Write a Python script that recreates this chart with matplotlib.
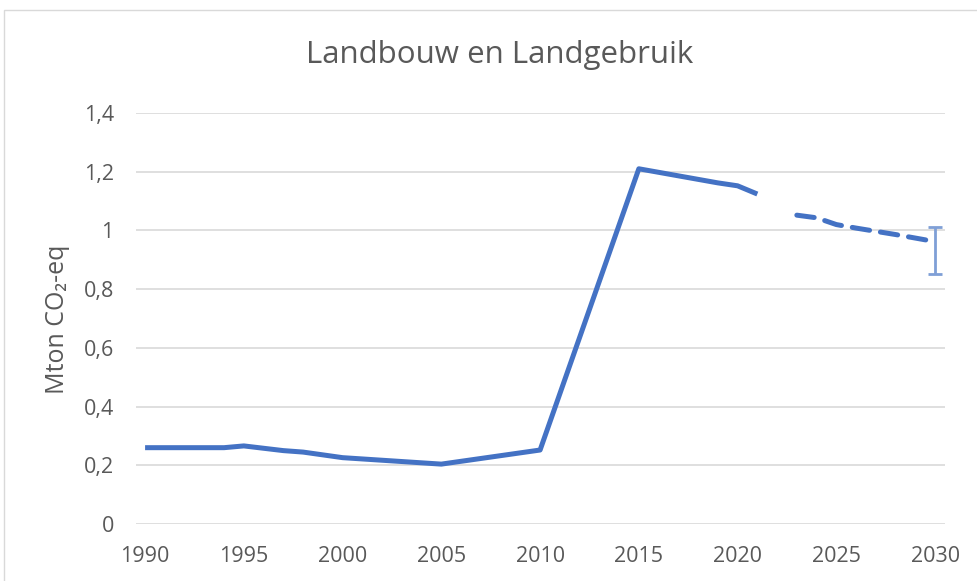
import matplotlib.pyplot as plt
from matplotlib.patches import Rectangle

# Historische reeks
years_hist = [1990, 1994, 1995, 1997, 1998, 2000, 2005, 2010, 2015, 2019, 2020, 2021]
values_hist = [0.26, 0.26, 0.266, 0.25, 0.245, 0.226, 0.204, 0.252, 1.21, 1.162, 1.152, 1.124]

# Projectie
years_proj = [2023, 2024, 2025, 2026, 2027, 2028, 2029, 2030]
values_proj = [1.052, 1.043, 1.02, 1.008, 0.997, 0.986, 0.974, 0.962]

# Bandbreedte 2030
err_year = 2030
err_low = 0.851
err_high = 1.01

blue = '#4472C4'
grey_txt = '#595959'
plt.rcParams['font.family'] = ['Open Sans', 'DejaVu Sans']

fig = plt.figure(figsize=(9.77, 5.81), dpi=100)
fig.patches.append(Rectangle((4 / 977, -0.1), 1.2, (581 - 10) / 581 + 0.1,
                             transform=fig.transFigure, fill=False,
                             edgecolor='#d9d9d9', linewidth=1))
ax = fig.add_axes([0.1392, 0.0981, 0.828, 0.7074])

ax.plot(years_hist, values_hist, color=blue, linewidth=3.6,
        solid_joinstyle='round', solid_capstyle='butt')
ax.plot(years_proj, values_proj, color=blue, linewidth=3.6,
        linestyle=(0, (3.5, 2.2)), dash_capstyle='round')
ax.errorbar([err_year], [values_proj[-1]],
            yerr=[[values_proj[-1] - err_low], [err_high - values_proj[-1]]],
            fmt='none', ecolor='#7f9fd6', elinewidth=2, capsize=5, capthick=2)

ax.set_xlim(1989.54, 2030.5)
ax.set_ylim(0, 1.4)
ax.set_xticks(range(1990, 2031, 5))
yt = [0, 0.2, 0.4, 0.6, 0.8, 1.0, 1.2, 1.4]
ax.set_yticks(yt)
ax.set_yticklabels([('%g' % v).replace('.', ',') for v in yt])
ax.grid(axis='y', color='#d9d9d9', linewidth=1.2)
ax.set_axisbelow(True)
for s in ax.spines.values():
    s.set_visible(False)
ax.tick_params(length=0, labelsize=15.5, colors=grey_txt)
ax.tick_params(axis='y', pad=16)
ax.tick_params(axis='x', pad=16)

fig.text(57 / 977, 0.5 - (319 - 290.5) / 581, 'Mton CO₂-eq', rotation=90,
         ha='center', va='center', fontsize=18, color=grey_txt)
fig.text(0.511, 0.891, 'Landbouw en Landgebruik', ha='center', va='baseline',
         fontsize=22.5, color=grey_txt)

fig.savefig('out.png', dpi=100)
